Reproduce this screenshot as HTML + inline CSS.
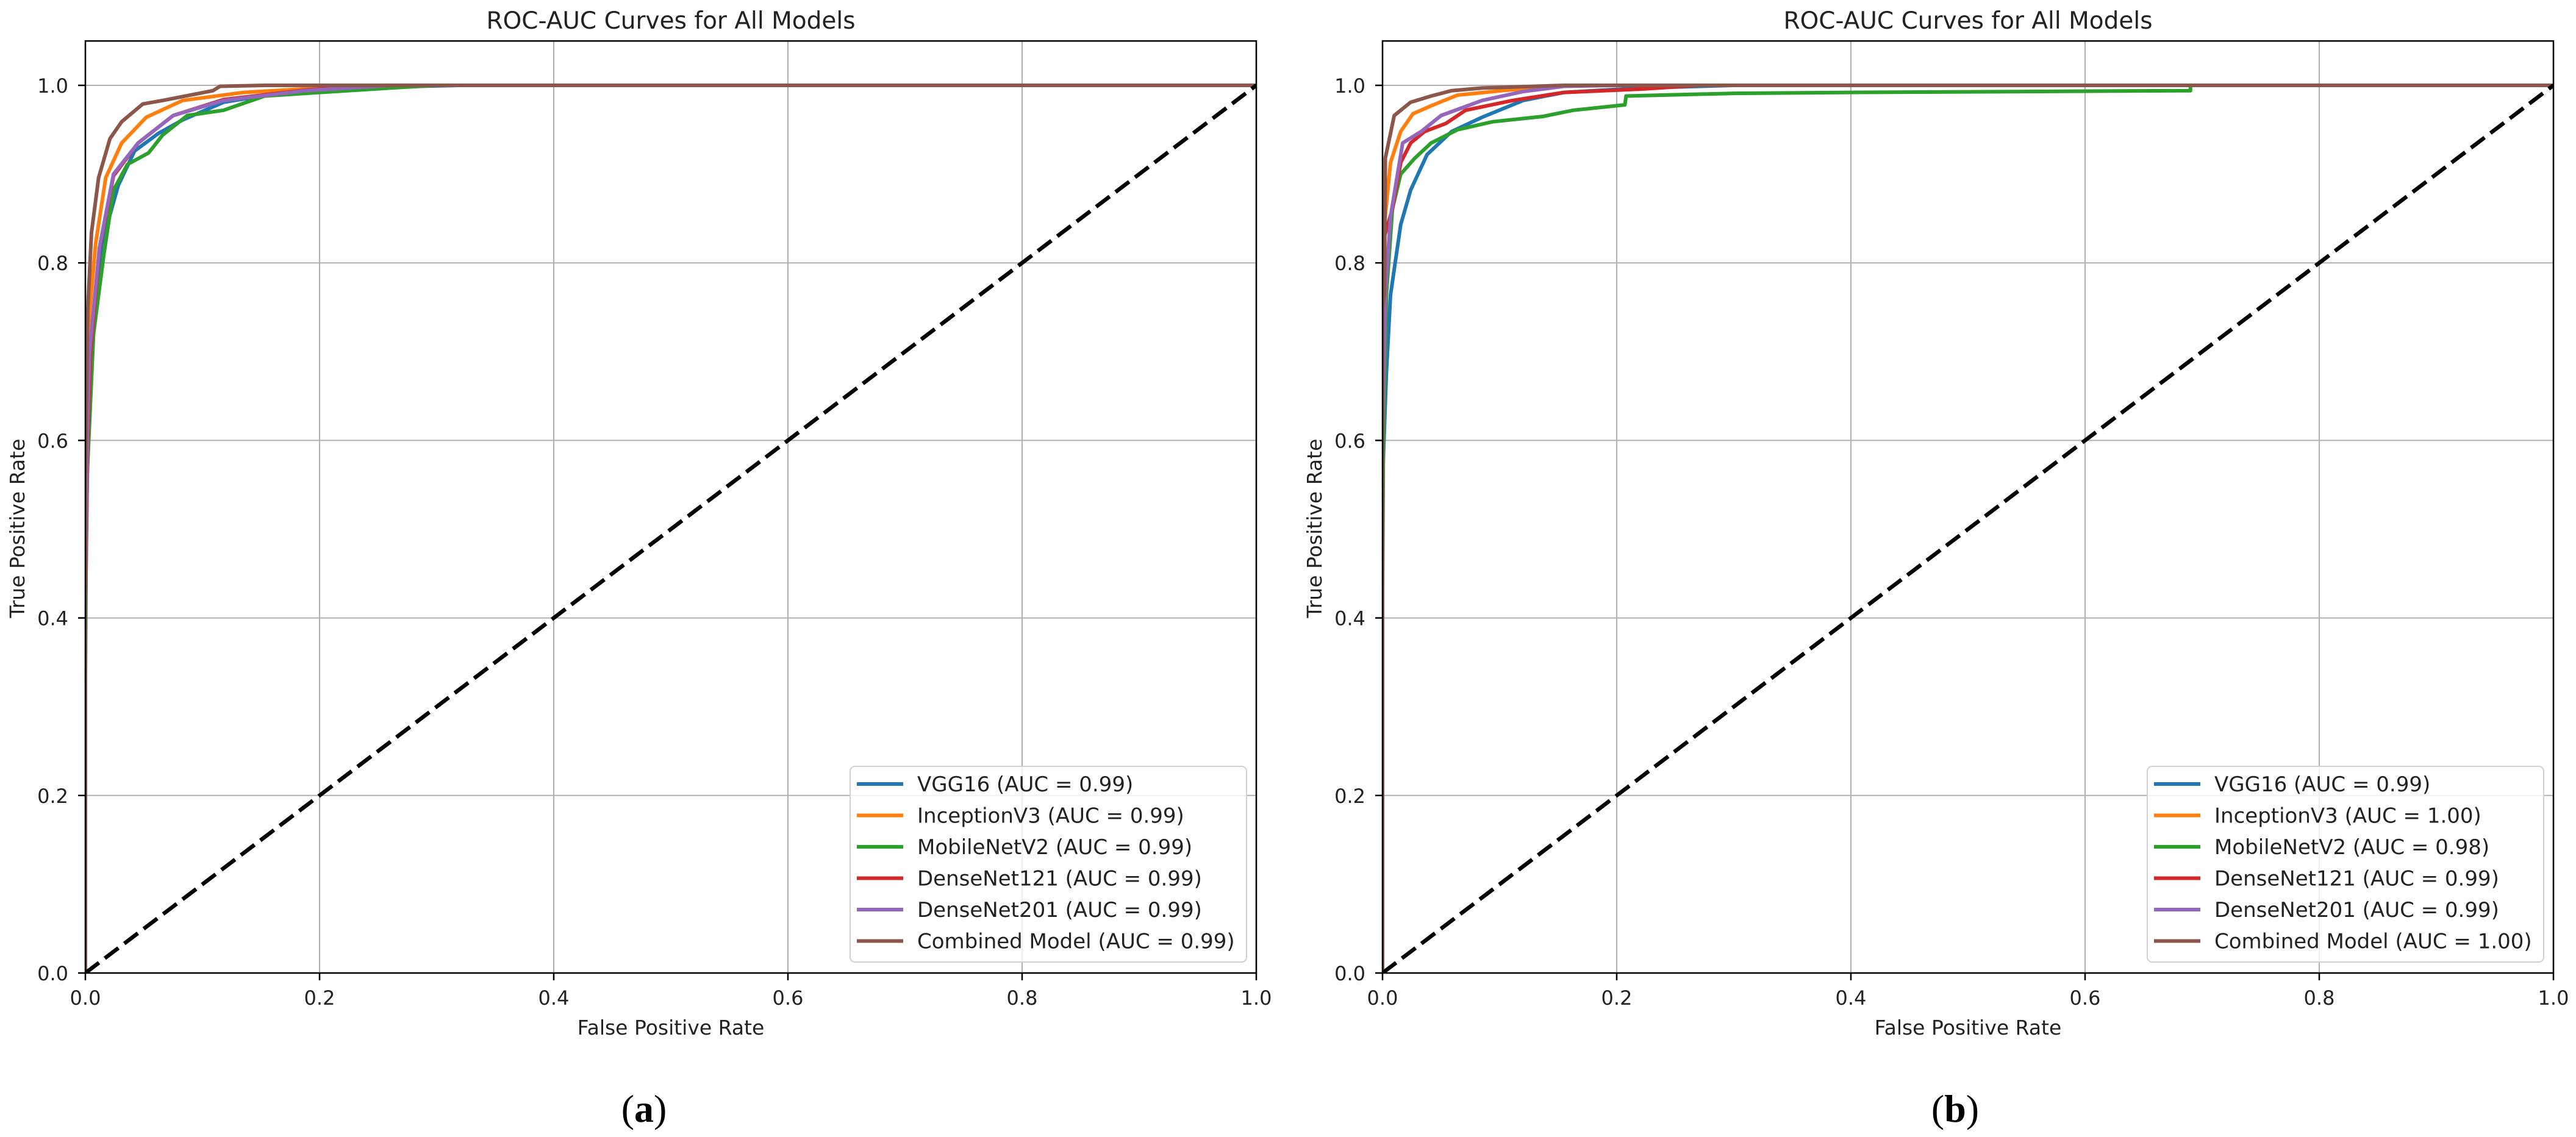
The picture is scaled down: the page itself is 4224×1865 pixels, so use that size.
<!DOCTYPE html>
<html><head><meta charset="utf-8"><style>
html,body{margin:0;padding:0;background:#fff;}
svg{display:block;font-family:"DejaVu Sans","Liberation Sans",sans-serif;}
</style></head><body>
<svg id="fig" width="4224" height="1865" viewBox="0 0 4224 1865" xmlns="http://www.w3.org/2000/svg"></svg>
<script>
// ---- data ----
const modelNames = ["VGG16","InceptionV3","MobileNetV2","DenseNet121","DenseNet201","Combined Model"];
const aucA = ["0.99","0.99","0.99","0.99","0.99","0.99"];
const aucB = ["0.99","1.00","0.98","0.99","0.99","1.00"];
const colors = ["#1f77b4","#ff7f0e","#2ca02c","#d62728","#9467bd","#8c564b"];
const xTicks = [0,0.2,0.4,0.6,0.8,1.0];
const yTicks = [0,0.2,0.4,0.6,0.8,1.0];
const tickLabels = ["0.0","0.2","0.4","0.6","0.8","1.0"];

// panel (a)
const fprA_vgg = [0,0,0.002,0.0052,0.0139,0.028,0.042,0.0625,0.083,0.118,0.17,0.25,0.32,1];
const tprA_vgg = [0,0.40,0.6,0.711,0.821,0.887,0.926,0.946,0.961,0.981,0.992,0.998,1,1];
const fprA_inc = [0,0,0.0015,0.0035,0.0087,0.0174,0.031,0.052,0.083,0.135,0.24,1];
const tprA_inc = [0,0.5,0.65,0.742,0.821,0.896,0.935,0.964,0.983,0.992,1,1];
const fprA_mob = [0,0,0.001,0.007,0.0156,0.024,0.036,0.054,0.066,0.087,0.118,0.153,0.2,0.26,0.3,1];
const tprA_mob = [0,0.33,0.545,0.72,0.808,0.882,0.911,0.924,0.944,0.966,0.972,0.988,0.992,0.997,1,1];
const fprA_d121 = [0,0,0.002,0.0045,0.012,0.024,0.045,0.075,0.118,0.19,0.26,1];
const tprA_d121 = [0,0.42,0.6,0.70,0.815,0.898,0.935,0.966,0.984,0.995,1,1];
const fprA_d201 = [0,0,0.0015,0.0035,0.012,0.024,0.045,0.075,0.118,0.1875,0.26,1];
const tprA_d201 = [0,0.45,0.6,0.698,0.817,0.9,0.935,0.966,0.983,0.994,1,1];
const fprA_comb = [0,0,0.002,0.0052,0.0113,0.021,0.031,0.049,0.066,0.109,0.115,0.153,1];
const tprA_comb = [0,0.55,0.746,0.834,0.896,0.94,0.959,0.979,0.983,0.994,0.999,1,1];

// panel (b)
const fprB_vgg = [0,0,0.0007,0.0033,0.0068,0.0155,0.024,0.038,0.059,0.085,0.12,0.155,0.22,0.3,1];
const tprB_vgg = [0,0.55,0.58,0.676,0.764,0.843,0.882,0.922,0.948,0.964,0.983,0.992,0.997,1,1];
const fprB_inc = [0,0,0.0016,0.0068,0.0155,0.026,0.0415,0.064,0.102,0.155,1];
const tprB_inc = [0,0.7,0.843,0.913,0.948,0.968,0.977,0.989,0.994,1,1];
const fprB_mob = [0,0,0.0007,0.0033,0.0085,0.0155,0.0276,0.0415,0.064,0.094,0.137,0.163,0.207,0.208,0.3,0.4,0.69,0.69,1];
const tprB_mob = [0,0.43,0.589,0.764,0.861,0.9,0.918,0.935,0.95,0.959,0.965,0.972,0.978,0.988,0.991,0.992,0.994,1,1];
const fprB_d121 = [0,0,0.0016,0.0085,0.0155,0.024,0.036,0.054,0.071,0.111,0.155,0.224,0.27,1];
const tprB_d121 = [0,0.7,0.83,0.861,0.913,0.935,0.948,0.957,0.972,0.983,0.992,0.996,1,1];
const fprB_d201 = [0,0,0.0024,0.0068,0.0172,0.033,0.05,0.085,0.12,0.155,0.2,1];
const tprB_d201 = [0,0.6,0.764,0.852,0.935,0.948,0.966,0.983,0.993,0.999,1,1];
const fprB_comb = [0,0,0.0016,0.0024,0.010,0.024,0.0415,0.059,0.085,0.155,1];
const tprB_comb = [0,0.75,0.764,0.918,0.966,0.981,0.988,0.994,0.997,1,1];

const fprA = [fprA_vgg,fprA_inc,fprA_mob,fprA_d121,fprA_d201,fprA_comb];
const tprA = [tprA_vgg,tprA_inc,tprA_mob,tprA_d121,tprA_d201,tprA_comb];
const fprB = [fprB_vgg,fprB_inc,fprB_mob,fprB_d121,fprB_d201,fprB_comb];
const tprB = [tprB_vgg,tprB_inc,tprB_mob,tprB_d121,tprB_d201,tprB_comb];

// ---- drawing ----
const NS = "http://www.w3.org/2000/svg";
const svg = document.getElementById("fig");
function mk(tag, attrs, parent){
  const e = document.createElementNS(NS, tag);
  for (const k in attrs) e.setAttribute(k, attrs[k]);
  (parent||svg).appendChild(e);
  return e;
}
const Y0 = 1596, PPU = 1456, YMAX = 1.05;

function drawPanel(id, x0, fprs, tprs, aucs, letter, letterX){
  const W = 1920;
  const sx = v => x0 + v*W;
  const sy = v => Y0 - v*PPU;
  const top = sy(YMAX);
  const g = mk("g", {});
  
  

  const clip = mk("clipPath", {id:"clip"+id}, g);
  mk("rect", {x:x0, y:top, width:W, height:Y0-top}, clip);

  const grid = mk("g", {stroke:"#b0b0b0", "stroke-width":2}, g);
  
  
  xTicks.forEach(t => mk("line", {x1:sx(t), x2:sx(t), y1:top, y2:Y0}, grid));
  yTicks.forEach(t => mk("line", {x1:x0, x2:x0+W, y1:sy(t), y2:sy(t)}, grid));

  const cg = mk("g", {"clip-path":"url(#clip"+id+")"}, g);
  for (let i=0;i<fprs.length;i++){
    const pts = fprs[i].map((f,j)=> sx(f).toFixed(1)+","+sy(tprs[i][j]).toFixed(1)).join(" ");
    const pl = mk("polyline", {points:pts, fill:"none", stroke:colors[i], "stroke-width":6, "stroke-linejoin":"round"}, cg);
    
    
  }
  const diag = mk("line", {x1:sx(0), y1:sy(0), x2:sx(1), y2:sy(1), stroke:"#000", "stroke-width":6.5, "stroke-dasharray":"28,12"}, cg);
  
  

  const sp = mk("rect", {x:x0, y:top, width:W, height:Y0-top, fill:"none", stroke:"#000", "stroke-width":2.5}, g);
  
  

  xTicks.forEach((t,i) => {
    mk("line", {x1:sx(t), x2:sx(t), y1:Y0, y2:Y0+12, stroke:"#000", "stroke-width":2.5}, g);
    const tx = mk("text", {x:sx(t), y:1648, "font-size":32, "text-anchor":"middle", fill:"#222"}, g);
    tx.textContent = tickLabels[i];
    
    
  });
  yTicks.forEach((t,i) => {
    mk("line", {x1:x0-12, x2:x0, y1:sy(t), y2:sy(t), stroke:"#000", "stroke-width":2.5}, g);
    const ty = mk("text", {x:x0-28, y:sy(t)+12, "font-size":32, "text-anchor":"end", fill:"#222"}, g);
    ty.textContent = tickLabels[i];
    
    
  });

  const title = mk("text", {x:x0+W/2, y:47, "font-size":39, "text-anchor":"middle", fill:"#222"}, g);
  title.textContent = "ROC-AUC Curves for All Models";
  
  

  const xl = mk("text", {x:x0+W/2, y:1697, "font-size":33, "text-anchor":"middle", fill:"#222"}, g);
  xl.textContent = "False Positive Rate";
  
  

  const ylx = x0 - 100;
  const yl = mk("text", {x:ylx, y:(top+Y0)/2+35, "font-size":33, "text-anchor":"middle", fill:"#222", transform:"rotate(-90 "+ylx+" "+((top+Y0)/2+35)+")"}, g);
  yl.textContent = "True Positive Rate";
  
  

  const lg = mk("g", {}, g);
  
  
  const lRight = x0 + W - 16, lW = 650, lL = lRight - lW;
  mk("rect", {x:lL, y:1257, width:lW, height:321, rx:8, fill:"rgba(255,255,255,0.8)", stroke:"#d0d0d0", "stroke-width":2}, lg);
  for (let i=0;i<modelNames.length;i++){
    const cy = 1286 + i*51.5;
    const ent = mk("g", {}, lg);
    
    
    mk("line", {x1:lL+11, x2:lL+87, y1:cy, y2:cy, stroke:colors[i], "stroke-width":6}, ent);
    const lt = mk("text", {x:lL+110, y:cy+12, "font-size":34, fill:"#222"}, ent);
    lt.textContent = modelNames[i] + " (AUC = " + aucs[i] + ")";
  }

  const sl = mk("text", {x:letterX, y:1840, "font-size":64, "text-anchor":"middle", fill:"#000", "font-family":"Liberation Serif, serif"}, g);
  
  
  const t1 = document.createElementNS(NS,"tspan"); t1.textContent="("; sl.appendChild(t1);
  const t2 = document.createElementNS(NS,"tspan"); t2.setAttribute("font-weight","bold"); t2.textContent=letter; sl.appendChild(t2);
  const t3 = document.createElementNS(NS,"tspan"); t3.textContent=")"; sl.appendChild(t3);
}
drawPanel("a", 140, fprA, tprA, aucA, "a", 1056);
drawPanel("b", 2267, fprB, tprB, aucB, "b", 3206);
</script>
</body></html>
